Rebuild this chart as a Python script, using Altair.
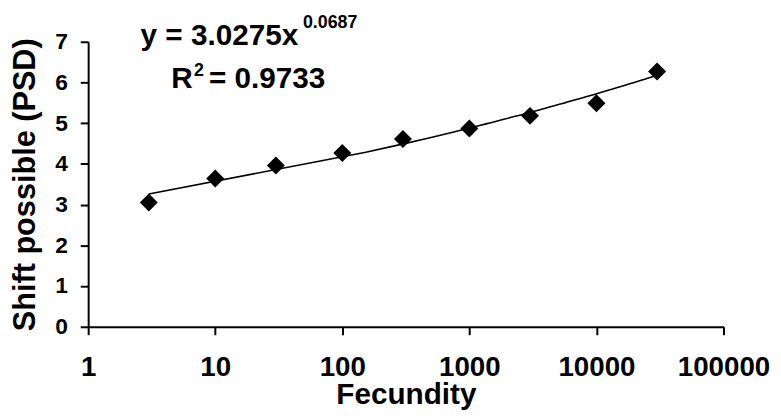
import altair as alt
import pandas as pd

fecundity = [3, 10, 30, 100, 300, 1000, 3000, 10000, 30000]
shift_psd = [3.05, 3.64, 3.96, 4.27, 4.61, 4.87, 5.18, 5.49, 6.27]
x_ticks = [1, 10, 100, 1000, 10000, 100000]
y_ticks = [0, 1, 2, 3, 4, 5, 6, 7]

df = pd.DataFrame({"Fecundity": fecundity, "Shift": shift_psd})

FONT = "Liberation Sans"

x_enc = alt.X(
    "Fecundity:Q",
    scale=alt.Scale(type="log", domain=[1, 100000], nice=False),
    axis=alt.Axis(
        values=x_ticks, format="d", title="Fecundity", grid=False,
        domainColor="black", domainWidth=2, tickColor="black", tickWidth=2, tickSize=8,
        labelFont=FONT, labelFontSize=28, labelFontWeight="bold", labelColor="black",
        labelPadding=19, labelFlush=False, labelOverlap=False,
        titleFont=FONT, titleFontSize=30, titleFontWeight="bold", titleColor="black",
        titlePadding=-1,
    ),
)
y_enc = alt.Y(
    "Shift:Q",
    scale=alt.Scale(domain=[0, 7], nice=False),
    axis=alt.Axis(
        values=y_ticks, title="Shift possible (PSD)", grid=False,
        domainColor="black", domainWidth=2, tickColor="black", tickWidth=2, tickSize=8,
        labelFont=FONT, labelFontSize=23, labelFontWeight="bold", labelColor="black",
        labelPadding=13, labelOverlap=False,
        titleFont=FONT, titleFontSize=31, titleFontWeight="bold", titleColor="black",
        titlePadding=13,
    ),
)

base = alt.Chart(df)

points = base.mark_point(shape="diamond", filled=True, color="black", size=330, opacity=1).encode(
    x=x_enc, y=y_enc
)

trend = base.transform_regression("Fecundity", "Shift", method="pow").mark_line(
    color="black", strokeWidth=1.6
).encode(x=x_enc, y=y_enc)

eq_df = pd.DataFrame({"t": ["y = 3.0275x"]})
sup_df = pd.DataFrame({"t": ["0.0687"]})
r_df = pd.DataFrame({"t": ["R"]})
r2_df = pd.DataFrame({"t": ["2"]})
rv_df = pd.DataFrame({"t": ["= 0.9733"]})

def txt(d, x, y, size):
    return alt.Chart(d).mark_text(
        font=FONT, fontWeight="bold", fontSize=size, color="black",
        align="left", baseline="alphabetic",
    ).encode(text="t:N", x=alt.value(x), y=alt.value(y))

labels = (
    txt(eq_df, 53, 3, 30)
    + txt(sup_df, 217, -14, 18)
    + txt(r_df, 84, 47, 30)
    + txt(r2_df, 107, 35, 18)
    + txt(rv_df, 122, 47, 30)
)

chart = alt.layer(points, trend, labels).properties(
    width=642, height=288,
    autosize=alt.AutoSizeParams(type="none"),
    padding={"left": 81, "top": 32, "right": 50, "bottom": 84},
).configure_view(stroke=None)

chart.save("out.html", embed_options={"renderer": "svg", "actions": False})
